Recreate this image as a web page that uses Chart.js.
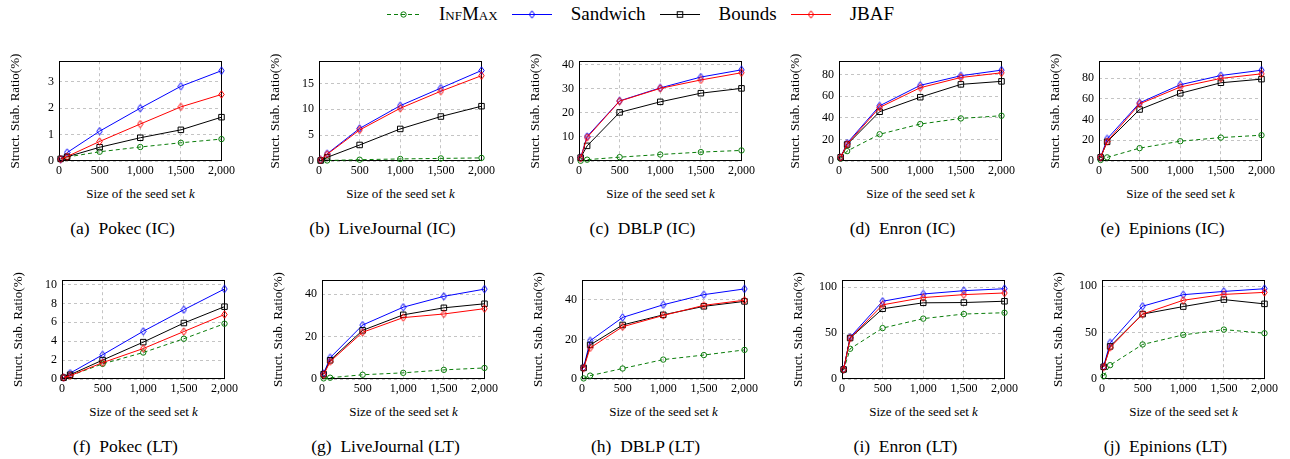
<!DOCTYPE html>
<html>
<head>
<meta charset="utf-8">
<script src="https://cdn.jsdelivr.net/npm/chart.js@4.4.1/dist/chart.umd.min.js"></script>
<style>
  html, body { margin: 0; padding: 0; background: #fff; }
  body { width: 1290px; height: 459px; position: relative; overflow: hidden;
         font-family: "Liberation Serif", serif; color: #000; }
  canvas.panel { position: absolute; }
  .xtitle, .caption { position: absolute; white-space: nowrap; transform: translate(-50%, -50%); }
  .xtitle { font-size: 13px; }
  .caption { font-size: 17.5px; }
  #legend { position: absolute; top: 3px; left: 387px; display: flex; align-items: center; font-size: 19px; height: 22px; }
  #legend canvas { display: block; }
  #legend span { margin-left: 19px; margin-right: 14px; }
  .sc { font-variant: small-caps; }
</style>
</head>
<body>
<div id="legend"></div>
<script>
// x positions of the measurements (seed set size k)
const seedSizes = [20, 100, 500, 1000, 1500, 2000];
const xTicks = [0, 500, 1000, 1500, 2000];
const methods = ["InfMax", "Sandwich", "Bounds", "JBAF"];

// each panel: [InfMax, Sandwich, Bounds, JBAF]
const pokecIC = [
    [0.07, 0.15, 0.35, 0.53, 0.69, 0.83],
    [0.07, 0.32, 1.13, 2.0, 2.83, 3.42],
    [0.08, 0.16, 0.52, 0.88, 1.18, 1.66],
    [0.07, 0.17, 0.74, 1.40, 2.05, 2.52]
];
const liveJournalIC = [
    [0.05, 0.1, 0.25, 0.4, 0.5, 0.6],
    [0.2, 1.4, 6.3, 10.7, 14.1, 17.5],
    [0.1, 0.7, 3.1, 6.2, 8.6, 10.6],
    [0.2, 1.3, 6.0, 10.2, 13.5, 16.5]
];
const dblpIC = [
    [0.1, 0.55, 1.6, 2.7, 3.7, 4.4],
    [1.4, 10.2, 25.0, 30.4, 34.9, 37.9],
    [1.4, 6.3, 20.2, 24.6, 28.2, 30.2],
    [1.2, 9.8, 24.9, 30.2, 33.7, 36.7]
];
const enronIC = [
    [2.1, 9.2, 24.8, 34.3, 39.5, 42.0],
    [3.4, 16.6, 51.2, 70.2, 79.1, 84.3],
    [3.4, 15.3, 45.7, 59.2, 71.1, 73.9],
    [3.4, 15.6, 49.7, 68.0, 77.5, 81.8]
];
const epinionsIC = [
    [1.0, 3.5, 12.4, 19.1, 22.6, 24.9],
    [3.5, 21.4, 56.1, 73.6, 82.5, 87.6],
    [3.5, 18.5, 49.7, 65.3, 75.5, 79.0],
    [3.5, 18.8, 55.1, 71.4, 79.7, 84.1]
];
const pokecLT = [
    [0.14, 0.35, 1.6, 2.8, 4.26, 5.85],
    [0.14, 0.62, 2.56, 5.05, 7.33, 9.52],
    [0.14, 0.45, 2.0, 3.9, 5.92, 7.65],
    [0.14, 0.35, 1.73, 3.22, 5.02, 6.82]
];
const liveJournalLT = [
    [0.3, 0.6, 2.0, 2.9, 4.3, 5.2],
    [2.6, 10.0, 25.4, 33.8, 38.9, 42.3],
    [2.3, 8.8, 22.9, 30.2, 33.5, 35.4],
    [2.0, 8.2, 22.0, 28.9, 30.6, 33.1]
];
const dblpLT = [
    [0.3, 1.7, 5.3, 9.8, 12.1, 14.7],
    [5.8, 19.3, 31.1, 37.5, 42.6, 45.5],
    [5.6, 17.2, 27.3, 32.4, 36.7, 39.2],
    [5.5, 15.7, 26.4, 32.1, 37.2, 39.8]
];
const enronLT = [
    [9.6, 32.9, 55.4, 65.7, 70.7, 72.1],
    [10.7, 45.4, 84.6, 92.5, 96.1, 98.2],
    [10.4, 44.6, 76.4, 82.9, 83.2, 84.6],
    [10.4, 44.3, 80.7, 88.6, 91.8, 93.6]
];
const epinionsLT = [
    [3.2, 14.9, 37.2, 47.5, 53.2, 49.3],
    [13.5, 39.0, 78.4, 90.8, 94.3, 97.2],
    [13.1, 35.1, 69.9, 78.0, 85.5, 80.9],
    [12.8, 34.0, 69.9, 84.8, 91.1, 93.3]
];

// panel layout (plot area in page pixels)
const panels = [
    { tag: "(a)", name: "Pokec (IC)",       series: pokecIC,       yMax: 3.78,  yStep: 1,  left: 59,   top: 59,  h: 102 },
    { tag: "(b)", name: "LiveJournal (IC)", series: liveJournalIC, yMax: 19.3,  yStep: 5,  left: 319,  top: 59,  h: 102 },
    { tag: "(c)", name: "DBLP (IC)",        series: dblpIC,        yMax: 41.5,  yStep: 10, left: 579,  top: 59,  h: 102 },
    { tag: "(d)", name: "Enron (IC)",       series: enronIC,       yMax: 92.6,  yStep: 20, left: 839,  top: 59,  h: 102 },
    { tag: "(e)", name: "Epinions (IC)",    series: epinionsIC,    yMax: 96.3,  yStep: 20, left: 1099, top: 59,  h: 102 },
    { tag: "(f)", name: "Pokec (LT)",       series: pokecLT,       yMax: 10.45, yStep: 2,  left: 62,   top: 278, h: 101 },
    { tag: "(g)", name: "LiveJournal (LT)", series: liveJournalLT, yMax: 46.5,  yStep: 20, left: 322,  top: 278, h: 101 },
    { tag: "(h)", name: "DBLP (LT)",        series: dblpLT,        yMax: 49.9,  yStep: 20, left: 582,  top: 278, h: 101 },
    { tag: "(i)", name: "Enron (LT)",       series: enronLT,       yMax: 107.5, yStep: 50, left: 842,  top: 278, h: 101 },
    { tag: "(j)", name: "Epinions (LT)",    series: epinionsLT,    yMax: 106.4, yStep: 50, left: 1102, top: 278, h: 101 }
];

const FAMILY = "Liberation Serif";
const PLOT_W = 163, Y_W = 58, PAD_TOP = 10, PAD_RIGHT = 16, X_H = 24;
Chart.defaults.font.family = FAMILY;
Chart.defaults.color = "#000";

function diamond(color) {
    const c = document.createElement("canvas");
    c.width = 7; c.height = 9;
    const g = c.getContext("2d");
    g.strokeStyle = color;
    g.lineWidth = 1;
    g.beginPath();
    g.moveTo(3.5, 0.8); g.lineTo(6.2, 4.5); g.lineTo(3.5, 8.2); g.lineTo(0.8, 4.5);
    g.closePath();
    g.stroke();
    return c;
}

const styles = [
    { color: "#0a7d0a", dash: [4, 3], point: "circle", radius: 2.7 },
    { color: "#0000ff", dash: [],     point: diamond("#0000ff"), radius: 3 },
    { color: "#000000", dash: [],     point: "rect", radius: 3.9 },
    { color: "#ff0000", dash: [],     point: diamond("#ff0000"), radius: 3 }
];

// black frame around each plot area
const boxPlugin = {
    id: "box",
    beforeDatasetsDraw(chart) {
        const a = chart.chartArea, ctx = chart.ctx;
        ctx.save();
        ctx.strokeStyle = "#000";
        ctx.lineWidth = 1;
        ctx.strokeRect(Math.round(a.left) + 0.5, Math.round(a.top) + 0.5,
                       Math.round(a.right - a.left) - 1, Math.round(a.bottom - a.top) - 1);
        ctx.restore();
    }
};

function buildPanel(p) {
    const cv = document.createElement("canvas");
    cv.className = "panel";
    cv.width = Y_W + PLOT_W + PAD_RIGHT;
    cv.height = PAD_TOP + p.h + X_H;
    cv.style.left = (p.left - Y_W) + "px";
    cv.style.top = (p.top - PAD_TOP) + "px";
    cv.style.width = cv.width + "px";
    cv.style.height = cv.height + "px";
    document.body.appendChild(cv);

    const datasets = methods.map(function (m, k) {
        const s = styles[k];
        return {
            label: m,
            data: seedSizes.map((x, i) => ({ x: x, y: p.series[k][i] })),
            borderColor: s.color,
            borderWidth: 1,
            borderDash: s.dash,
            pointStyle: s.point,
            pointRadius: s.radius,
            pointBorderColor: s.color,
            pointBackgroundColor: "rgba(0,0,0,0)",
            pointBorderWidth: 1,
            tension: 0,
            clip: false,
            order: 4 - k
        };
    });

    new Chart(cv.getContext("2d"), {
        type: "line",
        data: { datasets: datasets },
        options: {
            responsive: false,
            animation: false,
            events: [],
            layout: { padding: { top: PAD_TOP, right: PAD_RIGHT, left: 0, bottom: 0 } },
            plugins: { legend: { display: false }, tooltip: { enabled: false } },
            scales: {
                x: {
                    type: "linear",
                    min: 0,
                    max: 2000,
                    afterBuildTicks: s => { s.ticks = xTicks.map(v => ({ value: v })); },
                    afterFit: s => { s.height = X_H; },
                    ticks: {
                        font: { family: FAMILY, size: 12 },
                        padding: 3,
                        maxRotation: 0,
                        autoSkip: false,
                        callback: v => v.toLocaleString("en-US")
                    },
                    grid: { color: "#c4c4c4", drawTicks: false },
                    border: { display: false, dash: [3, 3] }
                },
                y: {
                    type: "linear",
                    min: 0,
                    max: p.yMax,
                    afterFit: s => { s.width = Y_W; },
                    ticks: { stepSize: p.yStep, includeBounds: false, font: { family: FAMILY, size: 12 }, padding: 5 },
                    grid: { color: "#c4c4c4", drawTicks: false },
                    border: { display: false, dash: [3, 3] },
                    title: {
                        display: true,
                        text: "Struct. Stab. Ratio(%)",
                        font: { family: FAMILY, size: 13 },
                        padding: { top: 7, bottom: 0 }
                    }
                }
            }
        },
        plugins: [boxPlugin]
    });

    const cx = p.left + PLOT_W / 2;
    const bottom = p.top + p.h;
    const xt = document.createElement("div");
    xt.className = "xtitle";
    xt.innerHTML = "Size of the seed set <i>k</i>";
    xt.style.left = cx + "px";
    xt.style.top = (bottom + 33) + "px";
    document.body.appendChild(xt);

    const cap = document.createElement("div");
    cap.className = "caption";
    cap.innerHTML = p.tag + "&nbsp;&nbsp;" + p.name;
    cap.style.left = (cx - 18) + "px";
    cap.style.top = (bottom + 67) + "px";
    document.body.appendChild(cap);
}

function buildLegend() {
    const legend = document.getElementById("legend");
    methods.forEach(function (m, k) {
        const s = styles[k];
        const c = document.createElement("canvas");
        const w = k === 0 ? 33 : 40;
        c.width = w; c.height = 20;
        const g = c.getContext("2d");
        g.strokeStyle = s.color;
        g.lineWidth = 1;
        g.setLineDash(s.dash);
        g.beginPath(); g.moveTo(0, 10.5); g.lineTo(w, 10.5); g.stroke();
        g.setLineDash([]);
        const mx = w / 2, my = 10.5;
        if (s.point === "circle") {
            g.beginPath(); g.arc(mx, my, s.radius, 0, Math.PI * 2); g.stroke();
        } else if (s.point === "rect") {
            const h = s.radius * Math.SQRT1_2;
            g.strokeRect(mx - h, my - h, 2 * h, 2 * h);
        } else {
            g.drawImage(s.point, mx - s.point.width / 2, my - s.point.height / 2);
        }
        legend.appendChild(c);
        const t = document.createElement("span");
        if (m === "InfMax") { t.className = "sc"; }
        t.textContent = m;
        legend.appendChild(t);
    });
}

// make sure the serif face is ready before the canvases measure text
Promise.all([
    document.fonts.load("12px 'Liberation Serif'"),
    document.fonts.load("13px 'Liberation Serif'")
]).catch(() => null).then(function () {
    panels.forEach(buildPanel);
    buildLegend();
});
</script>
</body>
</html>
